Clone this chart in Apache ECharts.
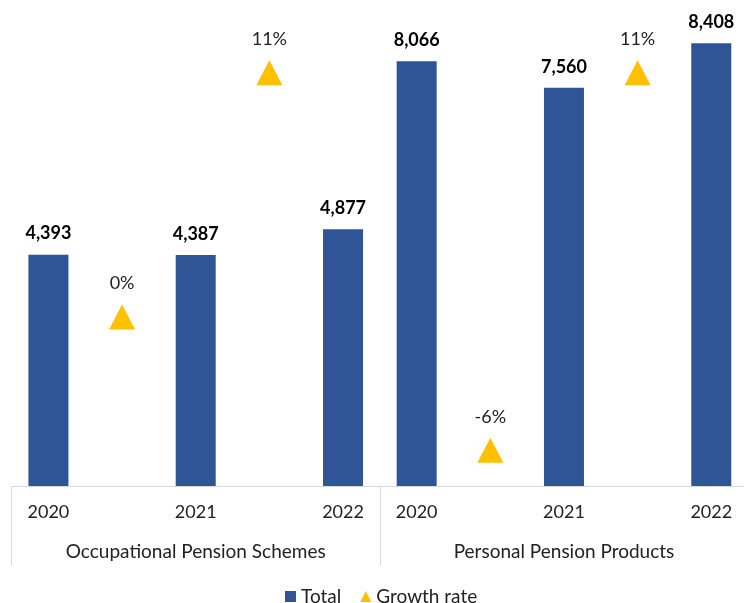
<!DOCTYPE html>
<html>
<head>
<meta charset="utf-8">
<script src="https://cdn.jsdelivr.net/npm/echarts@6/dist/echarts.min.js"></script>
<style>
  html, body { margin: 0; padding: 0; background: #fff; }
  #chart { width: 744px; height: 603px; }
</style>
</head>
<body>
<div id="chart"></div>
<script>
// chart values
const groups = ["Occupational Pension Schemes", "Personal Pension Products"];
const years = ["2020", "2021", "2022"];
const occupationalTotal = [4393, 4387, 4877];
const personalTotal = [8066, 7560, 8408];
const occupationalGrowth = [0, 11]; // %
const personalGrowth = [-6, 11]; // %

// each group: year, gap, year, gap, year -> growth sits in the gaps
const slotLabels = [];
const totalData = [];
const growthData = [];
[[occupationalTotal, occupationalGrowth], [personalTotal, personalGrowth]].forEach(function (g) {
  years.forEach(function (y, i) {
    slotLabels.push(y);
    totalData.push(g[0][i]);
    growthData.push("-");
    if (i < years.length - 1) {
      slotLabels.push("");
      totalData.push("-");
      growthData.push(g[1][i]);
    }
  });
});
const slots = slotLabels.map(function (_, i) { return "s" + i; });

const font = "Lato";
const textColor = "#222";

const chart = echarts.init(document.getElementById("chart"));
chart.setOption({
  animation: false,
  textStyle: { fontFamily: font },
  grid: { left: 11.6, width: 736.5, top: 12, bottom: 117, outerBoundsMode: "none" },
  legend: {
    left: 280,
    top: 582,
    itemWidth: 11,
    itemHeight: 11,
    itemGap: 19,
    textStyle: { fontFamily: font, fontSize: 19, color: textColor },
    data: [{ name: "Total", icon: "rect" }, { name: "Growth rate", icon: "triangle" }]
  },
  xAxis: [
    {
      type: "category",
      data: slots,
      axisLine: { onZero: false, lineStyle: { color: "#d9d9d9", width: 1 } },
      axisTick: { show: false },
      axisLabel: {
        interval: 0,
        margin: 17,
        fontFamily: font,
        fontSize: 18,
        color: textColor,
        formatter: function (v, i) { return slotLabels[i]; }
      }
    },
    {
      type: "category",
      position: "bottom",
      data: groups,
      axisLine: { show: false, onZero: false },
      axisTick: { show: true, inside: false, length: 79, lineStyle: { color: "#d9d9d9", width: 1 } },
      axisLabel: { interval: 0, margin: 56, fontFamily: font, fontSize: 19, color: textColor }
    }
  ],
  yAxis: [
    { type: "value", min: 0, max: 9000, show: false },
    { type: "value", min: -7.61, max: 13.73, show: false }
  ],
  series: [
    {
      name: "Total",
      type: "bar",
      data: totalData,
      barWidth: 40,
      itemStyle: { color: "#2F5597" },
      label: {
        show: true,
        position: "top",
        distance: 12,
        fontFamily: font,
        fontSize: 18,
        fontWeight: "bold",
        color: "#000",
        formatter: function (p) { return echarts.format.addCommas(p.value); }
      }
    },
    {
      name: "Growth rate",
      type: "scatter",
      yAxisIndex: 1,
      data: growthData,
      symbol: "triangle",
      symbolSize: [26, 25],
      itemStyle: { color: "#FFC000", opacity: 1 },
      label: {
        show: true,
        position: "top",
        distance: 12,
        fontFamily: font,
        fontSize: 18,
        color: textColor,
        formatter: function (p) { return p.value + "%"; }
      }
    }
  ]
});
</script>
</body>
</html>
